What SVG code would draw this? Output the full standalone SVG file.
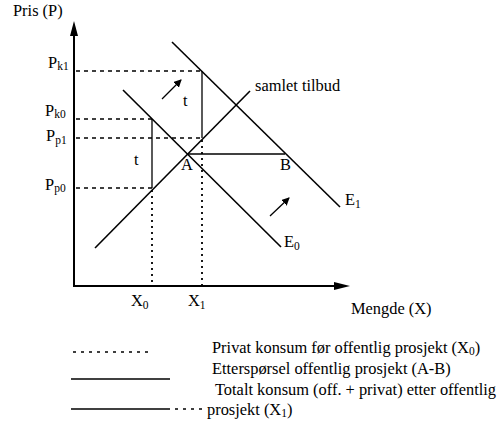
<svg xmlns="http://www.w3.org/2000/svg" width="500" height="421" viewBox="0 0 500 421">
<style>
text{font-family:"Liberation Serif","Times New Roman",serif;fill:#000;font-size:16.4px}
.sub{font-size:11.5px}
.ax{stroke:#000;stroke-width:2;fill:none}
.ln{stroke:#000;stroke-width:1.6;fill:none}
.th{stroke:#000;stroke-width:1.3;fill:none}
.dash{stroke:#000;stroke-width:1.6;stroke-dasharray:4 4;fill:none}
.dot{stroke:#000;stroke-width:1.8;stroke-dasharray:2 4;fill:none}
.ldot{stroke:#000;stroke-width:1.6;stroke-dasharray:3 5;fill:none}
</style>
<defs>
<marker id="ah" markerWidth="8" markerHeight="8" refX="7" refY="4" orient="auto" markerUnits="userSpaceOnUse">
<path d="M0,0 L8,4 L0,8 Z" fill="#000"/>
</marker>
</defs>
<g id="axes">
<line class="ax" x1="74" y1="287" x2="74" y2="34"/>
<path d="M74,21 L70,36 L78,36 Z" fill="#000"/>
<line class="ax" x1="73" y1="286" x2="336" y2="286"/>
<path d="M350,286 L334,282 L334,290 Z" fill="#000"/>
<text x="13" y="16">Pris (P)</text>
<text x="351" y="314">Mengde (X)</text>
</g>
<g id="connectors">
<line class="dash" x1="76" y1="71" x2="202" y2="71"/>
<line class="dash" x1="76" y1="119" x2="152" y2="119"/>
<line class="dash" x1="76" y1="138" x2="202" y2="138"/>
<line class="dash" x1="76" y1="188" x2="152" y2="188"/>
<line class="th" x1="202" y1="71" x2="202" y2="138"/>
<line class="th" x1="152" y1="119" x2="152" y2="188"/>
<line class="dot" x1="202" y1="140" x2="202" y2="285"/>
<line class="dot" x1="152" y1="190" x2="152" y2="285"/>
<line class="th" x1="188" y1="154" x2="285" y2="154"/>
<line class="th" x1="162" y1="99" x2="181" y2="80" marker-end="url(#ah)"/>
<line class="th" x1="270" y1="216" x2="289" y2="198" marker-end="url(#ah)"/>
</g>
<g id="supply">
<line class="ln" x1="95" y1="248" x2="250" y2="91"/>
<text x="255" y="91">samlet tilbud</text>
</g>
<g id="E0">
<line class="ln" x1="123" y1="90" x2="281" y2="247"/>
<text x="284" y="247">E<tspan class="sub" dy="3">0</tspan></text>
</g>
<g id="E1">
<line class="ln" x1="172" y1="42" x2="340" y2="207"/>
<text x="345" y="205">E<tspan class="sub" dy="3">1</tspan></text>
</g>
<g id="labels">
<text x="48" y="68">P<tspan class="sub" dy="2">k1</tspan></text>
<text x="45" y="116">P<tspan class="sub" dy="2">k0</tspan></text>
<text x="46" y="141">P<tspan class="sub" dy="3">p1</tspan></text>
<text x="45" y="190">P<tspan class="sub" dy="2">p0</tspan></text>
<text x="183" y="106">t</text>
<text x="134" y="165">t</text>
<text x="181" y="170">A</text>
<text x="280" y="170">B</text>
<text x="131" y="306">X<tspan class="sub" dy="3">0</tspan></text>
<text x="188" y="306">X<tspan class="sub" dy="3">1</tspan></text>
</g>
<g id="legend">
<line class="ldot" x1="73" y1="352" x2="150" y2="352"/>
<line class="th" x1="71" y1="379" x2="170" y2="379"/>
<line class="th" x1="71" y1="409" x2="170" y2="409"/>
<line class="ldot" x1="175" y1="409" x2="204" y2="409"/>
<text x="212" y="353">Privat konsum før offentlig prosjekt (X<tspan class="sub" dy="2">0</tspan><tspan dy="-2">)</tspan></text>
<text x="212" y="374">Etterspørsel offentlig prosjekt (A-B)</text>
<text x="215" y="395">Totalt konsum (off. + privat) etter offentlig</text>
<text x="207" y="415">prosjekt (X<tspan class="sub" dy="2">1</tspan><tspan dy="-2">)</tspan></text>
</g>
</svg>
